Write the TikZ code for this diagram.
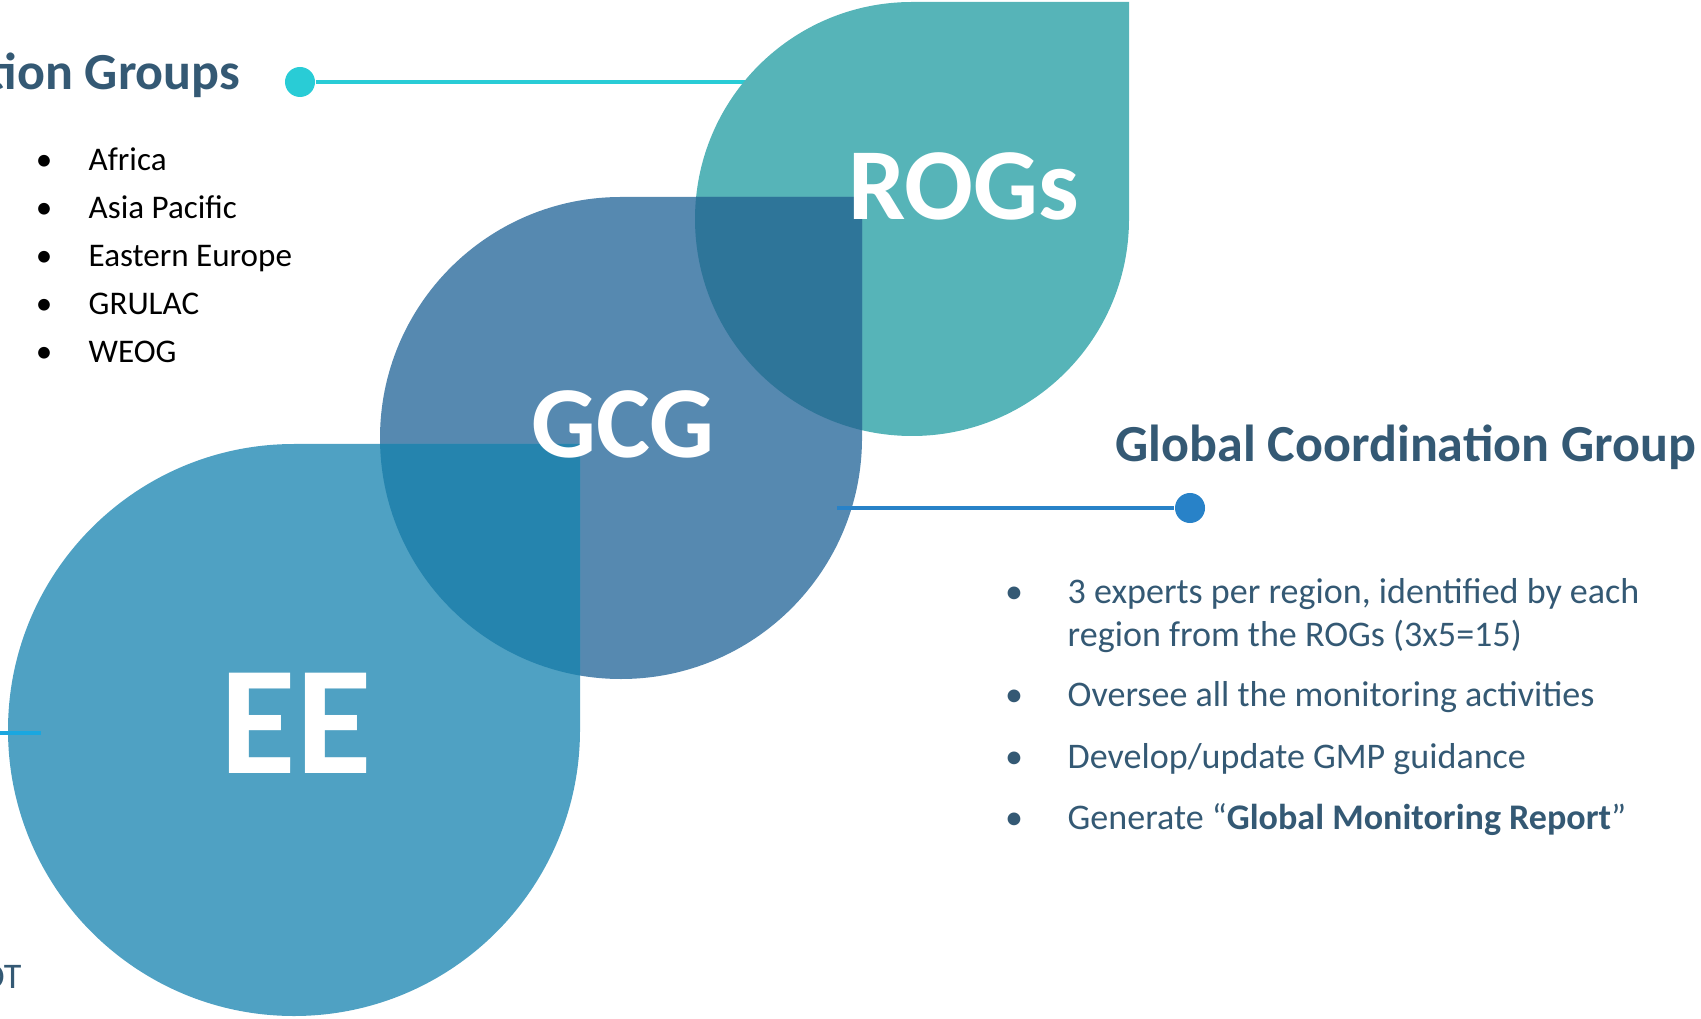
\documentclass[tikz,border=0pt]{standalone}
\usepackage{fontspec}
\setmainfont{Carlito}
\usetikzlibrary{positioning}
\definecolor{rogsteal}{RGB}{86,180,184}
\definecolor{gcgblue}{RGB}{86,137,176}
\definecolor{eeblue}{RGB}{79,161,195}
\definecolor{rogsgcg}{RGB}{46,117,153}
\definecolor{gcgee}{RGB}{37,132,174}
\definecolor{slate}{RGB}{52,89,116}
\definecolor{cyanline}{RGB}{41,204,214}
\definecolor{gcgline}{RGB}{40,130,200}
\definecolor{eeline}{RGB}{26,167,224}
% circle with a square top-right corner: centre (#1,#2), radius #3
\def\leaf(#1,#2,#3){(#1,#2-#3) arc[start angle=90,end angle=360,radius=#3*0.01cm] -- (#1+#3,#2-#3) -- cycle}

\begin{document}
\begin{tikzpicture}[x=0.01cm,y=-0.01cm,
	tag/.style={text=white,inner sep=0,anchor=base,font=\bfseries\fontsize{29}{34}\selectfont},
	head/.style={text=slate,inner sep=0,font=\bfseries\fontsize{14.8}{18}\selectfont},
	region/.style={inner sep=0,anchor=base west,font=\fontsize{9.4}{11}\selectfont},
	task/.style={text=slate,inner sep=0,anchor=base west,font=\fontsize{10.25}{12}\selectfont},
	knob/.style={circle,inner sep=0,minimum size=0.3cm}]
			%%%%% START %%%%%
			\useasboundingbox (0,0) rectangle (1701,1019);
			\clip (0,0) rectangle (1701,1019);
			
			\node[knob,fill=cyanline] (rogsdot) at (300,82) {};
			\coordinate (rogsend) at (800,82);
			\draw[cyanline,line width=1.2pt] (rogsdot) -- (rogsend);
			
			\fill[rogsteal] \leaf(912,219,217);
			\fill[gcgblue] \leaf(621,438,241);
			\fill[eeblue] \leaf(294,730,286);
			
			% overlaps
			\begin{scope}
				\clip \leaf(912,219,217);
				\fill[rogsgcg] \leaf(621,438,241);
			\end{scope}
			\begin{scope}
				\clip \leaf(621,438,241);
				\fill[gcgee] \leaf(294,730,286);
			\end{scope}
			
			\node[knob,fill=gcgline] (gcgdot) at (1190,508) {};
			\coordinate (gcgend) at (837,508);
			\draw[gcgline,line width=1.3pt] (gcgend) -- (gcgdot);
			
			\coordinate (eestart) at (0,733);
			\coordinate (eeend) at (41,733);
			\draw[eeline,line width=1.2pt] (eestart) -- (eeend);
			
			\node[tag] (rogs) at (964,220) {ROGs};
			\node[tag] (gcg) at (623,458) {GCG};
			\node[tag,font=\bfseries\fontsize{44}{50}\selectfont] (ee) at (296,773) {EE};
			
			\node[head,anchor=base east] (roghead) at (241,90) {tion Groups};
			\node[head,anchor=base west] (gcghead) at (1115,462) {Global Coordination Group};
			
			\node[region,anchor=base] (dot1) at (44,170.7) {•};
			\node[region] (africa) at (88,170.7) {Africa};
			\node[region,anchor=base] (dot2) at (44,218.7) {•};
			\node[region] (asia) at (88,218.7) {Asia Pacific};
			\node[region,anchor=base] (dot3) at (44,266.7) {•};
			\node[region] (eeurope) at (88,266.7) {Eastern Europe};
			\node[region,anchor=base] (dot4) at (44,314.7) {•};
			\node[region] (grulac) at (88,314.7) {GRULAC};
			\node[region,anchor=base] (dot5) at (44,362.7) {•};
			\node[region] (weog) at (88,362.7) {WEOG};
			
			\node[task,anchor=base] (tdot1) at (1014,603.5) {•};
			\node[task] (experts) at (1067,603.5) {3 experts per region, identified by each};
			\node[task] (experts2) at (1067,646.5) {region from the ROGs (3x5=15)};
			\node[task,anchor=base] (tdot2) at (1014,706.5) {•};
			\node[task] (oversee) at (1067,706.5) {Oversee all the monitoring activities};
			\node[task,anchor=base] (tdot3) at (1014,768.5) {•};
			\node[task] (develop) at (1067,768.5) {Develop/update GMP guidance};
			\node[task,anchor=base] (tdot4) at (1014,829) {•};
			\node[task] (generate) at (1067,829) {Generate “\textbf{Global Monitoring Report}”};
			
			\node[task,anchor=base east] (ot) at (22,988) {OT};
			%%%%% END %%%%%
\end{tikzpicture}
\end{document}
